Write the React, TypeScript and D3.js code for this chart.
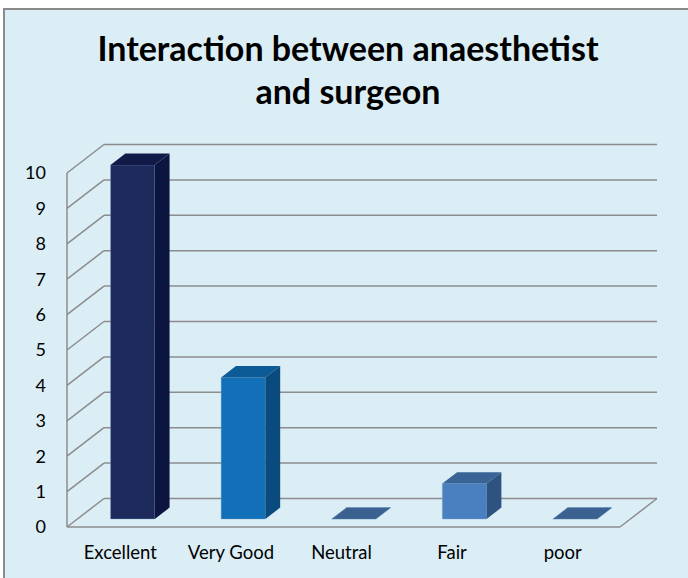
import React from "react";
import * as d3 from "d3";

const categories = ["Excellent", "Very Good", "Neutral", "Fair", "poor"];
const values = [10, 4, 0, 1, 0];
const yTicks = [0, 1, 2, 3, 4, 5, 6, 7, 8, 9, 10];
const titleLines = ["Interaction between anaesthetist", "and surgeon"];
const frontColors = ["#1f2a5c", "#1170b8", "#3a6190", "#4a80c0", "#3a6190"];
const topColors = ["#121b48", "#0c5a96", "#3a6190", "#3a6496", "#3a6190"];
const sideColors = ["#0c1540", "#0b4a7c", "#2f5380", "#2f5380", "#2f5380"];

const W = 688;
const H = 578;
const DX = 37;
const DY = -28.5;

export default function App() {
  const x = d3.scaleBand<string>().domain(categories).range([67, 620]).paddingInner(0).paddingOuter(0);
  const y = d3.scaleLinear().domain([0, 10]).range([527, 173]);
  const proj = (px: number, py: number, d: number): [number, number] => [px + DX * d, py + DY * d];
  const pts = (arr: [number, number][]) => arr.map((p) => p.join(",")).join(" ");

  const grid = "#8c8c8c";
  const d0 = 0.28;
  const d1 = 0.68;
  const barFrac = 0.4;
  const font = "Lato, 'Open Sans', sans-serif";

  return (
    <svg width={W} height={H} style={{ position: "absolute", left: 0, top: 0 }}>
      <rect x={0} y={0} width={W} height={H} fill="#ffffff" />
      <rect x={4} y={9} width={W + 10} height={H} fill="#dbeef5" stroke="#8a8a8a" strokeWidth={2} />
      {titleLines.map((t, i) => (
        <text
          key={i}
          x={348}
          y={61 + i * 43}
          textAnchor="middle"
          fontFamily={font}
          fontWeight="bold"
          fontSize={34}
          fill="#000"
        >
          {t}
        </text>
      ))}
      {yTicks.map((t) => {
        const yf = y(t);
        const [bx, by] = proj(67, yf, 1);
        const [ex] = proj(620, yf, 1);
        return (
          <g key={t}>
            <line x1={67} y1={yf} x2={bx} y2={by} stroke={grid} strokeWidth={1.5} />
            <line x1={bx} y1={by} x2={ex} y2={by} stroke={grid} strokeWidth={1.5} />
            <text x={46} y={yf} dy="0.35em" textAnchor="end" fontFamily={font} fontSize={18} fill="#000">
              {t}
            </text>
          </g>
        );
      })}
      <line x1={67} y1={y(10)} x2={67} y2={y(0)} stroke={grid} strokeWidth={1.5} />
      <line x1={67} y1={y(0)} x2={620} y2={y(0)} stroke={grid} strokeWidth={1.5} />
      <line x1={620} y1={y(0)} x2={proj(620, y(0), 1)[0]} y2={proj(620, y(0), 1)[1]} stroke={grid} strokeWidth={1.5} />
      {categories.map((c, i) => {
        const bw = x.bandwidth() * barFrac;
        const cx = (x(c) as number) + x.bandwidth() / 2;
        const xl = cx - bw / 2;
        const xr = cx + bw / 2;
        const yb = y(0);
        const yt = y(values[i]);
        const fl = proj(xl, yb, d0);
        const fr = proj(xr, yb, d0);
        const tl = proj(xl, yt, d0);
        const tr = proj(xr, yt, d0);
        const tlb = proj(xl, yt, d1);
        const trb = proj(xr, yt, d1);
        const frb = proj(xr, yb, d1);
        if (values[i] === 0) {
          return (
            <polygon key={c} points={pts([tl, tr, trb, tlb])} fill={topColors[i]} stroke="#5b84b4" strokeWidth={0.5} />
          );
        }
        return (
          <g key={c}>
            <polygon points={pts([tl, tr, fr, fl])} fill={frontColors[i]} stroke="#7fa6cc" strokeWidth={0.6} strokeOpacity={0.6} />
            <polygon points={pts([tr, trb, frb, fr])} fill={sideColors[i]} />
            <polygon points={pts([tl, tr, trb, tlb])} fill={topColors[i]} />
          </g>
        );
      })}
      {categories.map((c) => (
        <text
          key={c}
          x={(x(c) as number) + x.bandwidth() / 2 - 2}
          y={553}
          dy="0.35em"
          textAnchor="middle"
          fontFamily={font}
          fontSize={18.5}
          fill="#000"
        >
          {c}
        </text>
      ))}
    </svg>
  );
}
